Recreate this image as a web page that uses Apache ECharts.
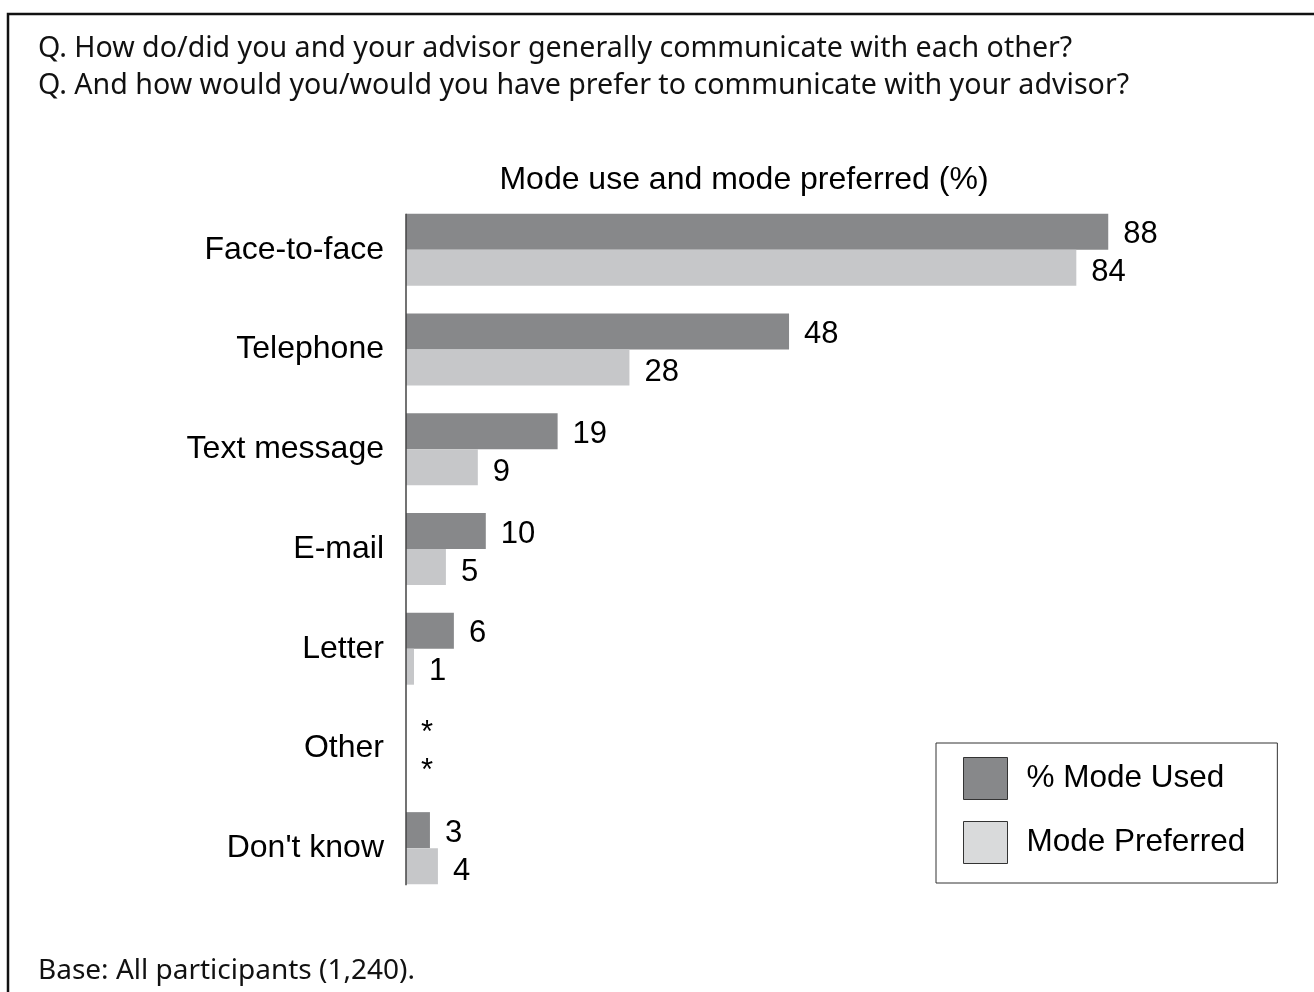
<!DOCTYPE html>
<html>
<head>
<meta charset="utf-8">
<script src="https://cdn.jsdelivr.net/npm/echarts@6/dist/echarts.min.js"></script>
<style>
html,body{margin:0;padding:0;background:#fff;}
#chart{width:1314px;height:992px;}
</style>
</head>
<body>
<div id="chart"></div>
<script>
const categories = ['Face-to-face', 'Telephone', 'Text message', 'E-mail', 'Letter', 'Other', "Don't know"];
const modeUsed = [88, 48, 19, 10, 6, 0, 3];
const modePreferred = [84, 28, 9, 5, 1, 0, 4];
const usedLabels = ['88', '48', '19', '10', '6', '*', '3'];
const preferredLabels = ['84', '28', '9', '5', '1', '*', '4'];
const seriesNames = ['% Mode Used', 'Mode Preferred'];
const questionLines = [
  'Q. How do/did you and your advisor generally communicate with each other?',
  'Q. And how would you/would you have prefer to communicate with your advisor?'
];
const chartTitle = 'Mode use and mode preferred (%)';
const baseNote = 'Base: All participants (1,240).';

const chart = echarts.init(document.getElementById('chart'), null, {renderer: 'canvas'});
const FONT = '"Liberation Sans", Arial, sans-serif';
const QFONT = '"Noto Sans", "Open Sans", sans-serif';

function mkData(vals, labels) {
  return vals.map((v, i) => ({value: v, label: {formatter: labels[i]}}));
}

const option = {
  backgroundColor: '#fff',
  animation: false,
  title: {
    text: chartTitle,
    left: 739, top: 159, textAlign: 'center',
    textStyle: {fontFamily: FONT, fontSize: 32, fontWeight: 'normal', color: '#000'}
  },
  grid: {left: 406, right: 110, top: 200, bottom: 94, containLabel: false},
  xAxis: {type: 'value', min: 0, max: 100, show: false},
  yAxis: {
    type: 'category', data: categories, inverse: true,
    axisLine: {show: false}, axisTick: {show: false}, splitLine: {show: false},
    axisLabel: {fontFamily: FONT, fontSize: 32, color: '#000', margin: 22, padding: [6, 0, 0, 0]}
  },
  legend: {
    orient: 'vertical', left: 936, top: 743,
    padding: [14, 32, 19, 27],
    borderColor: '#333', borderWidth: 1,
    itemWidth: 44, itemHeight: 42, itemGap: 21,
    icon: 'rect',
    textStyle: {fontFamily: FONT, fontSize: 31.5, color: '#000', padding: [2, 0, 0, 14]},
    data: [
      {name: seriesNames[0], itemStyle: {color: '#87888a', borderColor: '#333', borderWidth: 1}},
      {name: seriesNames[1], itemStyle: {color: '#d9dadb', borderColor: '#333', borderWidth: 1}}
    ]
  },
  series: [
    {
      name: seriesNames[0], type: 'bar', data: mkData(modeUsed, usedLabels),
      barWidth: 36, barGap: '0%',
      itemStyle: {color: '#87888a'},
      label: {show: true, position: 'right', distance: 15, offset: [0, 3], fontFamily: FONT, fontSize: 31, color: '#000'}
    },
    {
      name: seriesNames[1], type: 'bar', data: mkData(modePreferred, preferredLabels),
      barWidth: 36, barGap: '0%',
      itemStyle: {color: '#c6c7c9'},
      label: {show: true, position: 'right', distance: 15, offset: [0, 5], fontFamily: FONT, fontSize: 31, color: '#000'}
    }
  ]
};
chart.setOption(option);

// axis line spanning from first bar top to last bar bottom, positioned via the scales
const topPt = chart.convertToPixel({gridIndex: 0}, [0, categories[0]]);
const botPt = chart.convertToPixel({gridIndex: 0}, [0, categories[categories.length - 1]]);
chart.setOption({
  graphic: [
    {type: 'rect', shape: {x: 8, y: 14, width: 1400, height: 1100}, style: {fill: 'none', stroke: '#111', lineWidth: 2.5}, silent: true},
    {type: 'text', x: 38, y: 48.5, style: {text: questionLines[0], font: '28.6px ' + QFONT, fill: '#111', verticalAlign: 'middle'}},
    {type: 'text', x: 38, y: 85.5, style: {text: questionLines[1], font: '28.6px ' + QFONT, fill: '#111', verticalAlign: 'middle'}},
    {type: 'text', x: 38, y: 971, style: {text: baseNote, font: '28px ' + QFONT, fill: '#111', verticalAlign: 'middle'}},
    {type: 'line', shape: {x1: topPt[0], y1: topPt[1] - 36, x2: botPt[0], y2: botPt[1] + 37},
     style: {stroke: '#444', lineWidth: 1.5}, z: 10}
  ]
});
</script>
</body>
</html>
